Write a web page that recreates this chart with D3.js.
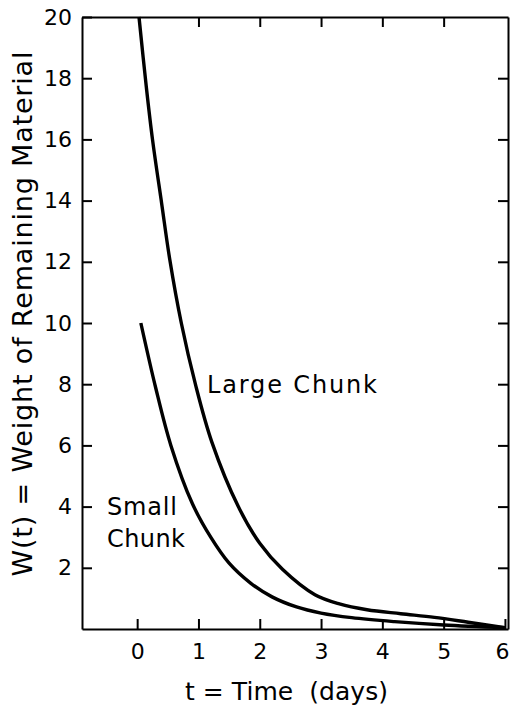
<!DOCTYPE html>
<meta charset="utf-8">
<script src="https://d3js.org/d3.v7.min.js"></script>
<style>
    body { margin: 0; background: #fff; }
    svg text { font-family: "DejaVu Sans", sans-serif; fill: #000; }
    .axis path, .axis line { stroke: #000; stroke-width: 2; }
    .curve { fill: none; stroke: #000; stroke-width: 3.4; }
</style>
<svg id="chart"></svg>
<script>
    // values
    var largeT = [0.03, 0.15, 0.25, 0.4, 0.53, 0.72, 0.95, 1.22, 1.65, 2.0, 2.37, 2.9, 3.3, 3.75, 4.3, 4.85, 5.4, 6.0];
    var largeW = [20, 17.7, 16.0, 13.9, 12.1, 10.0, 8.0, 6.1, 4.0, 2.8, 1.95, 1.12, 0.82, 0.63, 0.5, 0.38, 0.22, 0.04];
    var smallT = [0.06, 0.3, 0.55, 0.9, 1.2, 1.5, 1.85, 2.2, 2.6, 3.0, 3.5, 4.2, 5.0, 6.0];
    var smallW = [10.0, 7.9, 6.0, 4.1, 3.0, 2.15, 1.5, 1.05, 0.72, 0.52, 0.37, 0.24, 0.13, 0.04];
    var xTicks = [0, 1, 2, 3, 4, 5, 6];
    var yTicks = [2, 4, 6, 8, 10, 12, 14, 16, 18, 20];
    var xTitle = "t = Time\u00a0\u00a0(days)";
    var yTitle = "W(t) = Weight  of  Remaining  Material";

    var width = 510, height = 713;
    var mLeft = 82, mRight = 508, mTop = 17, mBottom = 629;

    var svg = d3.select("#chart")
        .attr("width", width)
        .attr("height", height);

    var x = d3.scaleLinear().domain([-0.9, 6.05]).range([mLeft, mRight]);
    var y = d3.scaleLinear().domain([0, 20]).range([mBottom, mTop]);

    // axes, ticks pointing inward
    var xAxis = svg.append("g")
        .attr("class", "axis")
        .attr("transform", "translate(0," + mBottom + ")")
        .call(d3.axisBottom(x).tickValues(xTicks).tickSize(-10).tickSizeOuter(0).tickPadding(14).tickFormat(d3.format("d")));
    xAxis.selectAll("text").style("font-size", "22px");
    xAxis.selectAll(".tick text").filter(function(d) { return d === 6; }).attr("dx", "-3");

    svg.append("g")
        .attr("class", "axis")
        .attr("transform", "translate(" + mLeft + ",0)")
        .call(d3.axisLeft(y).tickValues(yTicks).tickSize(-10).tickSizeOuter(0).tickPadding(10).tickFormat(d3.format("d")))
        .selectAll("text").style("font-size", "22px");

    svg.append("g")
        .attr("class", "axis")
        .attr("transform", "translate(0," + mTop + ")")
        .call(d3.axisTop(x).tickValues([1, 2, 3, 4, 5]).tickSize(-10).tickSizeOuter(0).tickFormat(""));

    svg.append("g")
        .attr("class", "axis")
        .attr("transform", "translate(" + mRight + ",0)")
        .call(d3.axisRight(y).tickValues([2, 4, 6, 8, 10, 12, 14, 16, 18]).tickSize(-10).tickSizeOuter(0).tickFormat(""));

    // the curves
    var line = d3.line()
        .x(function(d) { return x(d[0]); })
        .y(function(d) { return y(d[1]); })
        .curve(d3.curveCatmullRom.alpha(0.5));

    svg.append("path")
        .attr("class", "curve")
        .attr("d", line(d3.zip(largeT, largeW)));

    svg.append("path")
        .attr("class", "curve")
        .attr("d", line(d3.zip(smallT, smallW)));

    // curve labels
    svg.append("text")
        .attr("x", 207).attr("y", 393)
        .attr("textLength", 170).attr("lengthAdjust", "spacing")
        .style("font-size", "24px")
        .text("Large Chunk");

    svg.append("text")
        .attr("x", 107).attr("y", 515)
        .attr("textLength", 70).attr("lengthAdjust", "spacing")
        .style("font-size", "24px")
        .text("Small");

    svg.append("text")
        .attr("x", 107).attr("y", 547)
        .attr("textLength", 78).attr("lengthAdjust", "spacing")
        .style("font-size", "24px")
        .text("Chunk");

    // axis titles
    svg.append("text")
        .attr("x", 185).attr("y", 700)
        .attr("textLength", 203).attr("lengthAdjust", "spacing")
        .style("font-size", "25px")
        .text(xTitle);

    svg.append("text")
        .attr("transform", "translate(32,314) rotate(-90)")
        .attr("text-anchor", "middle")
        .attr("textLength", 525).attr("lengthAdjust", "spacing")
        .style("font-size", "27px")
        .text(yTitle);
</script>
